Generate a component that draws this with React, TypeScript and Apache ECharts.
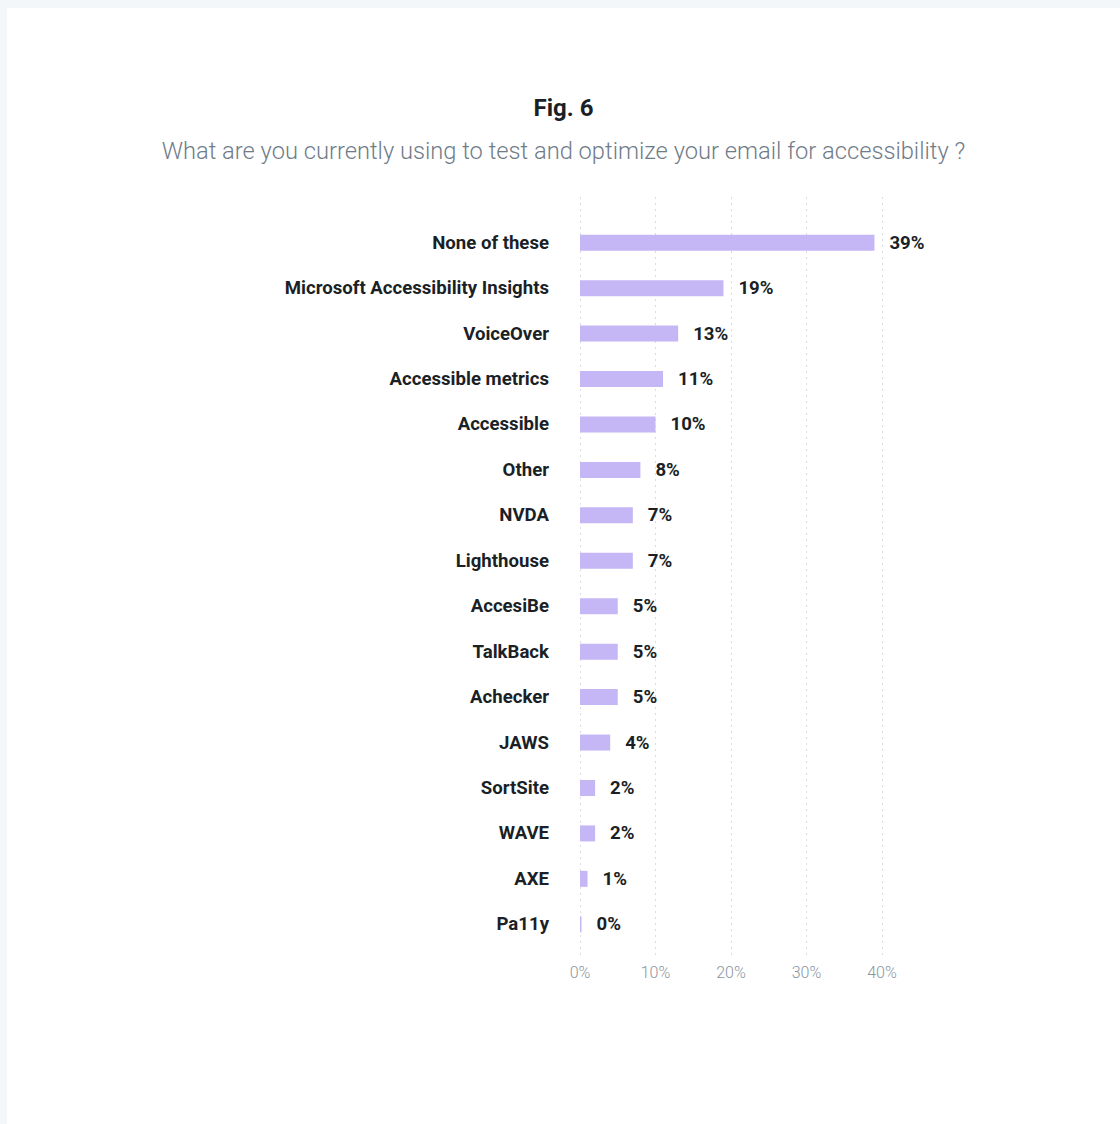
import React, { useEffect, useRef } from "react";
import * as echarts from "echarts";

const categories = [
  "None of these",
  "Microsoft Accessibility Insights",
  "VoiceOver",
  "Accessible metrics",
  "Accessible",
  "Other",
  "NVDA",
  "Lighthouse",
  "AccesiBe",
  "TalkBack",
  "Achecker",
  "JAWS",
  "SortSite",
  "WAVE",
  "AXE",
  "Pa11y",
];
const values = [39, 19, 13, 11, 10, 8, 7, 7, 5, 5, 5, 4, 2, 2, 1, 0.2];
const xTicks = [0, 10, 20, 30, 40];

const title = "Fig. 6";
const subtitle = "What are you currently using to test and optimize your email for accessibility ?";

export default function App() {
  const ref = useRef<HTMLDivElement>(null);
  useEffect(() => {
    document.body.style.margin = "0";
    const chart = echarts.init(ref.current!, undefined, { renderer: "svg" });
    const font = "Roboto, 'Noto Sans', sans-serif";
    chart.setOption({
      animation: false,
      backgroundColor: "#ffffff",
      textStyle: { fontFamily: font },
      title: [
        {
          text: title,
          left: "center",
          top: 83,
          textStyle: { fontSize: 24, fontWeight: "bold", color: "#1b1f26", fontFamily: font },
        },
        {
          text: subtitle,
          left: "center",
          top: 126,
          textStyle: { fontSize: 23.7, fontWeight: 300, color: "#6f7c88", fontFamily: font },
        },
      ],
      grid: [
        { left: 573, right: 238, top: 189, bottom: 1116 - 951, containLabel: false },
        { left: 573, right: 238, top: 212, bottom: 1116 - 939, containLabel: false },
      ],
      xAxis: [
        {
          type: "value",
          gridIndex: 0,
          min: 0,
          max: xTicks[xTicks.length - 1],
          interval: 10,
          axisLine: { show: false },
          axisTick: { show: false },
          axisLabel: {
            formatter: (v: number) => `${v}%`,
            color: "#8a96a2",
            fontSize: 16,
            fontWeight: 300,
            margin: 5,
            fontFamily: font,
          },
          splitLine: { show: true, lineStyle: { type: [2, 4], color: "#d9dde2", width: 1 } },
        },
        {
          type: "value",
          gridIndex: 1,
          min: 0,
          max: xTicks[xTicks.length - 1],
          interval: 10,
          show: false,
          splitLine: { show: false },
        },
      ],
      yAxis: [
        {
          type: "category",
          gridIndex: 0,
          data: categories,
          show: false,
          inverse: true,
        },
        {
          type: "category",
          gridIndex: 1,
          data: categories,
          inverse: true,
          axisLine: { show: false },
          axisTick: { show: false },
          splitLine: { show: false },
          axisLabel: {
            margin: 31,
            color: "#1b1f26",
            fontSize: 18.6,
            fontWeight: "bold",
            fontFamily: font,
          },
        },
      ],
      series: [
        {
          type: "bar",
          xAxisIndex: 1,
          yAxisIndex: 1,
          data: values,
          barWidth: 16,
          itemStyle: { color: "#c5b6f6" },
          label: {
            show: true,
            position: "right",
            distance: 15,
            formatter: (p: any) => `${Math.round(p.value)}%`,
            color: "#1b1f26",
            fontSize: 18.6,
            fontWeight: "bold",
            fontFamily: font,
          },
        },
      ],
    });
    return () => chart.dispose();
  }, []);
  return (
    <div style={{ position: "fixed", left: 0, top: 0, width: 1120, height: 1124, background: "#f3f7fa" }}>
      <div ref={ref} style={{ position: "absolute", left: 7, top: 8, width: 1113, height: 1116 }} />
    </div>
  );
}
